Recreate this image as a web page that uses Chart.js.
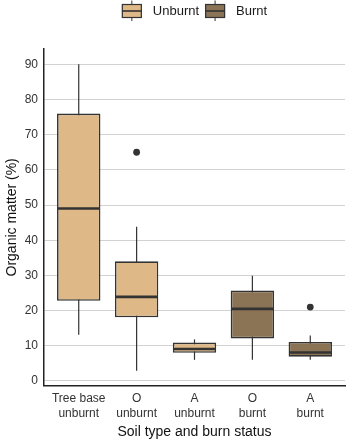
<!DOCTYPE html>
<html>
<head>
<meta charset="utf-8">
<script src="https://cdn.jsdelivr.net/npm/chart.js@4.4.1/dist/chart.umd.min.js"></script>
<style>
  html, body { margin: 0; padding: 0; background: #fff; }
  #wrap { width: 349px; height: 443px; }
</style>
</head>
<body>
<div id="wrap"><canvas id="chart" width="349" height="443"></canvas></div>
<script>
// categories along the x axis (two-line tick labels)
const categories = [['Tree base', 'unburnt'], ['O', 'unburnt'], ['A', 'unburnt'], ['O', 'burnt'], ['A', 'burnt']];
const groups = ['Unburnt', 'Unburnt', 'Unburnt', 'Burnt', 'Burnt'];

// box plot statistics (organic matter, %)
const whiskerLow = [13.1, 2.9, 6.0, 6.0, 6.0];
const q1 = [22.8, 18.1, 8.0, 12.1, 6.9];
const median = [49.0, 23.9, 9.1, 20.5, 8.1];
const q3 = [76.0, 34.0, 10.9, 25.7, 11.1];
const whiskerHigh = [90.0, 43.8, 11.8, 29.9, 12.9];
const outliers = [[], [65.0], [], [], [21.0]];

const yTicks = [0, 10, 20, 30, 40, 50, 60, 70, 80, 90];
const legendGroups = ['Unburnt', 'Burnt'];

const fills = { Unburnt: '#DEB887', Burnt: '#8B7355' };
const ink = '#333333';
const fontFamily = '"Liberation Sans", Arial, Helvetica, sans-serif';

function boxData(group) {
    const out = [];
    categories.forEach((c, i) => {
        if (groups[i] === group) out.push({ x: i + 1, y: [q1[i], q3[i]] });
    });
    return out;
}

const outlierPoints = [];
outliers.forEach((list, i) => list.forEach(v => outlierPoints.push({ x: i + 1, y: v })));

// whiskers behind the boxes, medians on top of them, legend glyphs
const boxPlotParts = {
    id: 'boxPlotParts',
    beforeDatasetsDraw(chart) {
        const { ctx, scales: { x, y } } = chart;
        ctx.save();
        ctx.strokeStyle = ink;
        ctx.lineWidth = 1.2;
        categories.forEach((c, i) => {
            const px = x.getPixelForValue(i + 1);
            ctx.beginPath();
            ctx.moveTo(px, y.getPixelForValue(whiskerLow[i]));
            ctx.lineTo(px, y.getPixelForValue(whiskerHigh[i]));
            ctx.stroke();
        });
        ctx.restore();
    },
    afterDatasetsDraw(chart) {
        const { ctx, scales: { y } } = chart;
        ctx.save();
        ctx.strokeStyle = ink;
        ctx.lineWidth = 2.6;
        chart.data.datasets.forEach((ds, di) => {
            if (ds.type === 'scatter') return;
            const meta = chart.getDatasetMeta(di);
            meta.data.forEach((bar, j) => {
                const idx = ds.data[j].x - 1;
                const py = y.getPixelForValue(median[idx]);
                ctx.beginPath();
                ctx.moveTo(bar.x - bar.width / 2 + 0.5, py);
                ctx.lineTo(bar.x + bar.width / 2 - 0.5, py);
                ctx.stroke();
            });
        });
        ctx.restore();
    },
    afterDraw(chart) {
        const { ctx, chartArea } = chart;
        ctx.save();
        ctx.font = '13px ' + fontFamily;
        ctx.textBaseline = 'middle';
        const glyphW = 20, gapText = 11, gapItem = 6;
        const widths = legendGroups.map(g => glyphW + gapText + ctx.measureText(g).width);
        const total = widths.reduce((a, b) => a + b, 0) + gapItem * (legendGroups.length - 1);
        let cx = (chartArea.left + chartArea.right) / 2 - total / 2;
        const cy = 11;
        legendGroups.forEach((g, k) => {
            const mid = cx + glyphW / 2;
            ctx.strokeStyle = ink;
            ctx.lineWidth = 1;
            ctx.beginPath();
            ctx.moveTo(mid, cy - 10.5);
            ctx.lineTo(mid, cy + 10);
            ctx.stroke();
            ctx.fillStyle = fills[g];
            ctx.fillRect(cx, cy - 6.5, glyphW, 13);
            ctx.lineWidth = 1.2;
            ctx.strokeRect(cx + 0.5, cy - 6.5, glyphW - 1, 13);
            ctx.lineWidth = 1.6;
            ctx.beginPath();
            ctx.moveTo(cx + 0.5, cy);
            ctx.lineTo(cx + glyphW - 0.5, cy);
            ctx.stroke();
            ctx.fillStyle = '#1a1a1a';
            ctx.fillText(g, cx + glyphW + gapText, cy + 0.5);
            cx += widths[k] + gapItem;
        });
        ctx.restore();
    }
};

new Chart(document.getElementById('chart'), {
    type: 'bar',
    data: {
        datasets: [
            {
                type: 'scatter',
                label: 'outliers',
                data: outlierPoints,
                pointRadius: 3.4,
                pointBackgroundColor: ink,
                pointBorderWidth: 0
            },
            {
                label: 'Unburnt',
                data: boxData('Unburnt'),
                backgroundColor: fills.Unburnt,
                borderColor: ink,
                borderWidth: 1.6,
                borderSkipped: false,
                grouped: false,
                categoryPercentage: 1,
                barPercentage: 0.75
            },
            {
                label: 'Burnt',
                data: boxData('Burnt'),
                backgroundColor: fills.Burnt,
                borderColor: ink,
                borderWidth: 1.6,
                borderSkipped: false,
                grouped: false,
                categoryPercentage: 1,
                barPercentage: 0.75
            }
        ]
    },
    options: {
        responsive: false,
        animation: false,
        layout: { padding: { top: 49, left: 0, right: 1, bottom: 0 } },
        plugins: {
            legend: { display: false },
            tooltip: { enabled: false }
        },
        scales: {
            x: {
                type: 'linear',
                offset: false,
                min: 0.4,
                max: 5.6,
                afterBuildTicks: scale => { scale.ticks = categories.map((c, i) => ({ value: i + 1 })); },
                afterFit: scale => { scale.height = 57.3; },
                grid: { display: false, drawTicks: false },
                border: { display: true, color: '#222', width: 1.5 },
                ticks: {
                    autoSkip: false,
                    maxRotation: 0,
                    minRotation: 0,
                    padding: 5,
                    color: '#333',
                    font: { family: fontFamily, size: 12, lineHeight: 1.25 },
                    callback: v => categories[Math.round(v) - 1]
                },
                title: {
                    display: true,
                    text: 'Soil type and burn status',
                    color: '#111',
                    font: { family: fontFamily, size: 14 },
                    padding: { top: 0, bottom: 2 }
                }
            },
            y: {
                min: -1.35,
                max: 94.35,
                afterBuildTicks: scale => { scale.ticks = yTicks.map(v => ({ value: v })); },
                afterFit: scale => { scale.width = 44; },
                grid: { color: '#d2d2d2', lineWidth: 1, drawTicks: false },
                border: { display: true, color: '#222', width: 1.5 },
                ticks: {
                    padding: 6,
                    color: '#333',
                    font: { family: fontFamily, size: 12 }
                },
                title: {
                    display: true,
                    text: 'Organic matter (%)',
                    color: '#111',
                    font: { family: fontFamily, size: 14 },
                    padding: { top: 3.5, bottom: 0 }
                }
            }
        }
    },
    plugins: [boxPlotParts]
});
</script>
</body>
</html>
